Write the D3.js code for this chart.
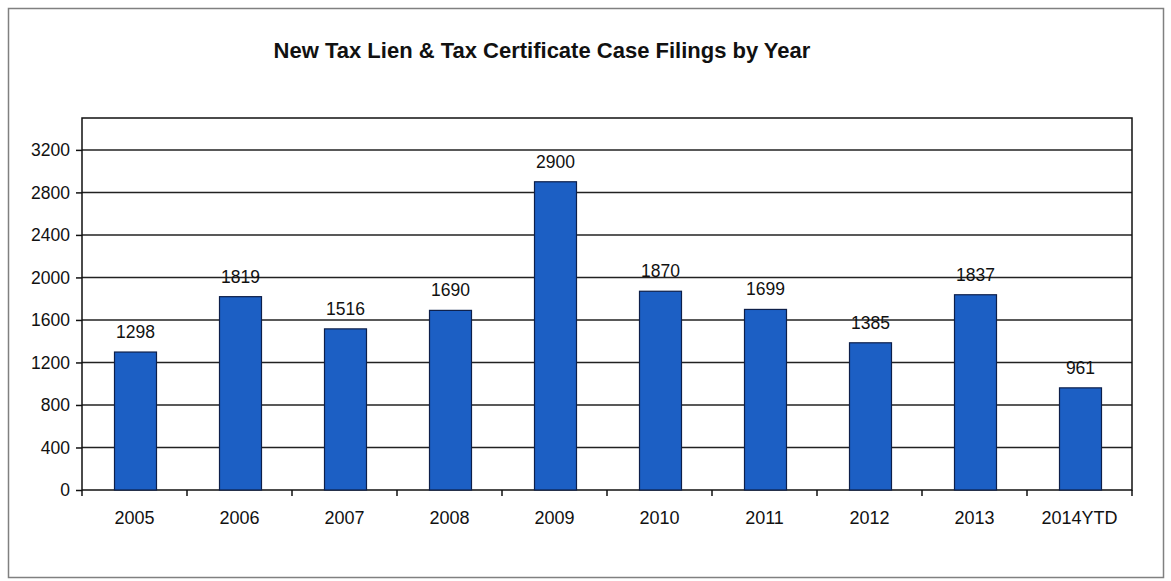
<!DOCTYPE html>
<html>
<head>
<meta charset="utf-8">
<script src="https://cdn.jsdelivr.net/npm/d3@7"></script>
<style>
  html, body { margin: 0; padding: 0; background: #fff; }
  svg { display: block; }
</style>
</head>
<body>
<svg id="chart" width="1171" height="581"></svg>
<script>
const title = "New Tax Lien & Tax Certificate Case Filings by Year";
const categories = ["2005", "2006", "2007", "2008", "2009", "2010", "2011", "2012", "2013", "2014YTD"];
const values = [1298, 1819, 1516, 1690, 2900, 1870, 1699, 1385, 1837, 961];
const yTicks = [0, 400, 800, 1200, 1600, 2000, 2400, 2800, 3200];
const yMax = 3500;

const svg = d3.select("#chart");
const font = "'Liberation Sans', Arial, sans-serif";
const narrow = "'Liberation Sans Narrow', 'Arial Narrow', 'Liberation Sans', Arial, sans-serif";

// outer frame
svg.append("rect")
  .attr("x", 8.5).attr("y", 8.5).attr("width", 1155).attr("height", 569)
  .attr("fill", "#fff").attr("stroke", "#808080").attr("stroke-width", 1.5);

const plot = { left: 82, right: 1132, top: 118, bottom: 490 };

const x = d3.scaleBand().domain(categories).range([plot.left, plot.right]).paddingInner(0.6).paddingOuter(0.3);
const xb = d3.scaleBand().domain(categories).range([plot.left, plot.right]);
const y = d3.scaleLinear().domain([0, yMax]).range([plot.bottom, plot.top]);

// title
const t = svg.append("text")
  .attr("x", 542).attr("y", 58)
  .attr("text-anchor", "middle")
  .attr("font-family", narrow).attr("font-weight", "bold").attr("font-size", 22)
  .attr("fill", "#111")
  .text(title);
// keep the title at its reference width whatever narrow face is available
const tw = t.node().getComputedTextLength();
if (Math.abs(tw - 540) > 8) t.attr("textLength", 540).attr("lengthAdjust", "spacingAndGlyphs");

// gridlines
svg.append("g").selectAll("line").data(yTicks.filter(d => d > 0)).join("line")
  .attr("x1", plot.left).attr("x2", plot.right)
  .attr("y1", d => y(d)).attr("y2", d => y(d))
  .attr("stroke", "#222").attr("stroke-width", 1.5);

// plot border
svg.append("rect")
  .attr("x", plot.left).attr("y", plot.top)
  .attr("width", plot.right - plot.left).attr("height", plot.bottom - plot.top)
  .attr("fill", "none").attr("stroke", "#111").attr("stroke-width", 1.5);

// bars
svg.append("g").selectAll("rect").data(values).join("rect")
  .attr("x", (d, i) => x(categories[i]) + 1)
  .attr("y", d => y(d))
  .attr("width", x.bandwidth())
  .attr("height", d => y(0) - y(d))
  .attr("fill", "#1c5fc4")
  .attr("stroke", "#0d1f4a").attr("stroke-width", 1.2);

// value labels
svg.append("g").selectAll("text").data(values).join("text")
  .attr("x", (d, i) => x(categories[i]) + x.bandwidth() / 2 + 1)
  .attr("y", d => y(d) - 14)
  .attr("text-anchor", "middle")
  .attr("font-family", font).attr("font-size", 17.5).attr("fill", "#111")
  .text(d => d);

// y axis
const yAxis = d3.axisLeft(y).tickValues(yTicks).tickSize(6).tickPadding(6).tickFormat(d3.format("d"));
const gy = svg.append("g").attr("transform", `translate(${plot.left},0)`).call(yAxis);
gy.select(".domain").remove();
gy.selectAll("line").attr("stroke", "#111").attr("stroke-width", 1.5);
gy.selectAll("text").attr("font-family", font).attr("font-size", 17.5).attr("fill", "#111");

// x axis
const gx = svg.append("g").attr("transform", `translate(0,${plot.bottom})`);
gx.selectAll("line").data(d3.range(categories.length + 1)).join("line")
  .attr("x1", i => plot.left + i * xb.step()).attr("x2", i => plot.left + i * xb.step())
  .attr("y1", 0).attr("y2", 6)
  .attr("stroke", "#111").attr("stroke-width", 1.5);
gx.selectAll("text").data(categories).join("text")
  .attr("x", d => xb(d) + xb.bandwidth() / 2)
  .attr("y", 34)
  .attr("text-anchor", "middle")
  .attr("font-family", font).attr("font-size", 18).attr("fill", "#111")
  .text(d => d);
</script>
</body>
</html>
